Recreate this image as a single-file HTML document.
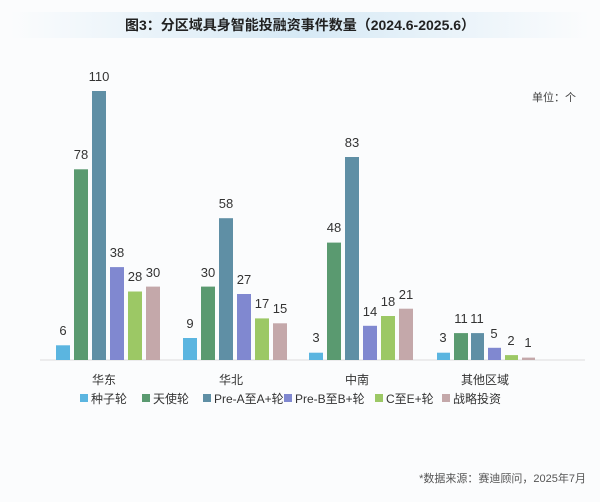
<!DOCTYPE html>
<html><head><meta charset="utf-8"><style>
body{margin:0;background:#fbfcfd;}
svg text{font-family:"Liberation Sans","Noto Sans CJK SC",sans-serif;}
</style></head><body>
<svg width="600" height="497" viewBox="0 0 600 497" xmlns="http://www.w3.org/2000/svg">
<defs><linearGradient id="g" x1="0" x2="1"><stop offset="0" stop-color="#fbfcfd"/><stop offset="0.5" stop-color="#d6e9f5"/><stop offset="1" stop-color="#fbfcfd"/></linearGradient></defs>
<rect width="600" height="497" fill="#fbfcfd"/>
<rect x="10" y="12" width="580" height="26" fill="url(#g)"/>
<text x="300" y="30" text-anchor="middle" font-size="14" font-weight="bold" fill="#222">图3：分区域具身智能投融资事件数量（2024.6-2025.6）</text>
<text x="576" y="101" text-anchor="end" font-size="11" fill="#444">单位：个</text>
<line x1="40" y1="360" x2="585" y2="360" stroke="#ddd" stroke-width="1"/>
<g id="bars"></g>
<g font-size="12" fill="#333" text-anchor="middle">
<text x="104" y="384">华东</text><text x="231" y="384">华北</text><text x="357" y="384">中南</text><text x="485" y="384">其他区域</text>
</g>
<g font-size="12" fill="#333">
<rect x="80" y="394" width="8" height="8" fill="#5bb5e0"/><text x="91" y="403">种子轮</text>
<rect x="142" y="394" width="8" height="8" fill="#5a9a70"/><text x="153" y="403">天使轮</text>
<rect x="203" y="394" width="8" height="8" fill="#5f8fa5"/><text x="214" y="403">Pre-A至A+轮</text>
<rect x="284" y="394" width="8" height="8" fill="#8088d0"/><text x="295" y="403">Pre-B至B+轮</text>
<rect x="375" y="394" width="8" height="8" fill="#9cc865"/><text x="386" y="403">C至E+轮</text>
<rect x="442" y="394" width="8" height="8" fill="#c4a8aa"/><text x="453" y="403">战略投资</text>
</g>
<text x="586" y="482" text-anchor="end" font-size="11" fill="#555">*数据来源：赛迪顾问，2025年7月</text>
<g font-size="13" fill="#333" text-anchor="middle">
<rect x="56" y="345.3" width="14" height="14.7" fill="#5bb5e0"/><text x="63" y="335">6</text>
<rect x="74" y="169.3" width="14" height="190.7" fill="#5a9a70"/><text x="81" y="159">78</text>
<rect x="92" y="91" width="14" height="269" fill="#5f8fa5"/><text x="99" y="81">110</text>
<rect x="110" y="267.1" width="14" height="92.9" fill="#8088d0"/><text x="117" y="257">38</text>
<rect x="128" y="291.5" width="14" height="68.5" fill="#9cc865"/><text x="135" y="281">28</text>
<rect x="146" y="286.6" width="14" height="73.4" fill="#c4a8aa"/><text x="153" y="277">30</text>

<rect x="183" y="338" width="14" height="22" fill="#5bb5e0"/><text x="190" y="328">9</text>
<rect x="201" y="286.6" width="14" height="73.4" fill="#5a9a70"/><text x="208" y="277">30</text>
<rect x="219" y="218.2" width="14" height="141.8" fill="#5f8fa5"/><text x="226" y="208">58</text>
<rect x="237" y="294" width="14" height="66" fill="#8088d0"/><text x="244" y="284">27</text>
<rect x="255" y="318.4" width="14" height="41.6" fill="#9cc865"/><text x="262" y="308">17</text>
<rect x="273" y="323.3" width="14" height="36.7" fill="#c4a8aa"/><text x="280" y="313">15</text>

<rect x="309" y="352.7" width="14" height="7.3" fill="#5bb5e0"/><text x="316" y="342">3</text>
<rect x="327" y="242.6" width="14" height="117.4" fill="#5a9a70"/><text x="334" y="232">48</text>
<rect x="345" y="157" width="14" height="203" fill="#5f8fa5"/><text x="352" y="147">83</text>
<rect x="363" y="325.8" width="14" height="34.2" fill="#8088d0"/><text x="370" y="316">14</text>
<rect x="381" y="316" width="14" height="44" fill="#9cc865"/><text x="388" y="306">18</text>
<rect x="399" y="308.7" width="14" height="51.3" fill="#c4a8aa"/><text x="406" y="299">21</text>

<rect x="437" y="352.7" width="13" height="7.3" fill="#5bb5e0"/><text x="443" y="342">3</text>
<rect x="454" y="333.1" width="14" height="26.9" fill="#5a9a70"/><text x="461" y="323">11</text>
<rect x="471" y="333.1" width="13" height="26.9" fill="#5f8fa5"/><text x="477" y="323">11</text>
<rect x="488" y="347.8" width="13" height="12.2" fill="#8088d0"/><text x="494" y="338">5</text>
<rect x="505" y="355.1" width="13" height="4.9" fill="#9cc865"/><text x="511" y="345">2</text>
<rect x="522" y="357.6" width="13" height="2.4" fill="#c4a8aa"/><text x="528" y="347">1</text>
</g>
</svg>
</body></html>
